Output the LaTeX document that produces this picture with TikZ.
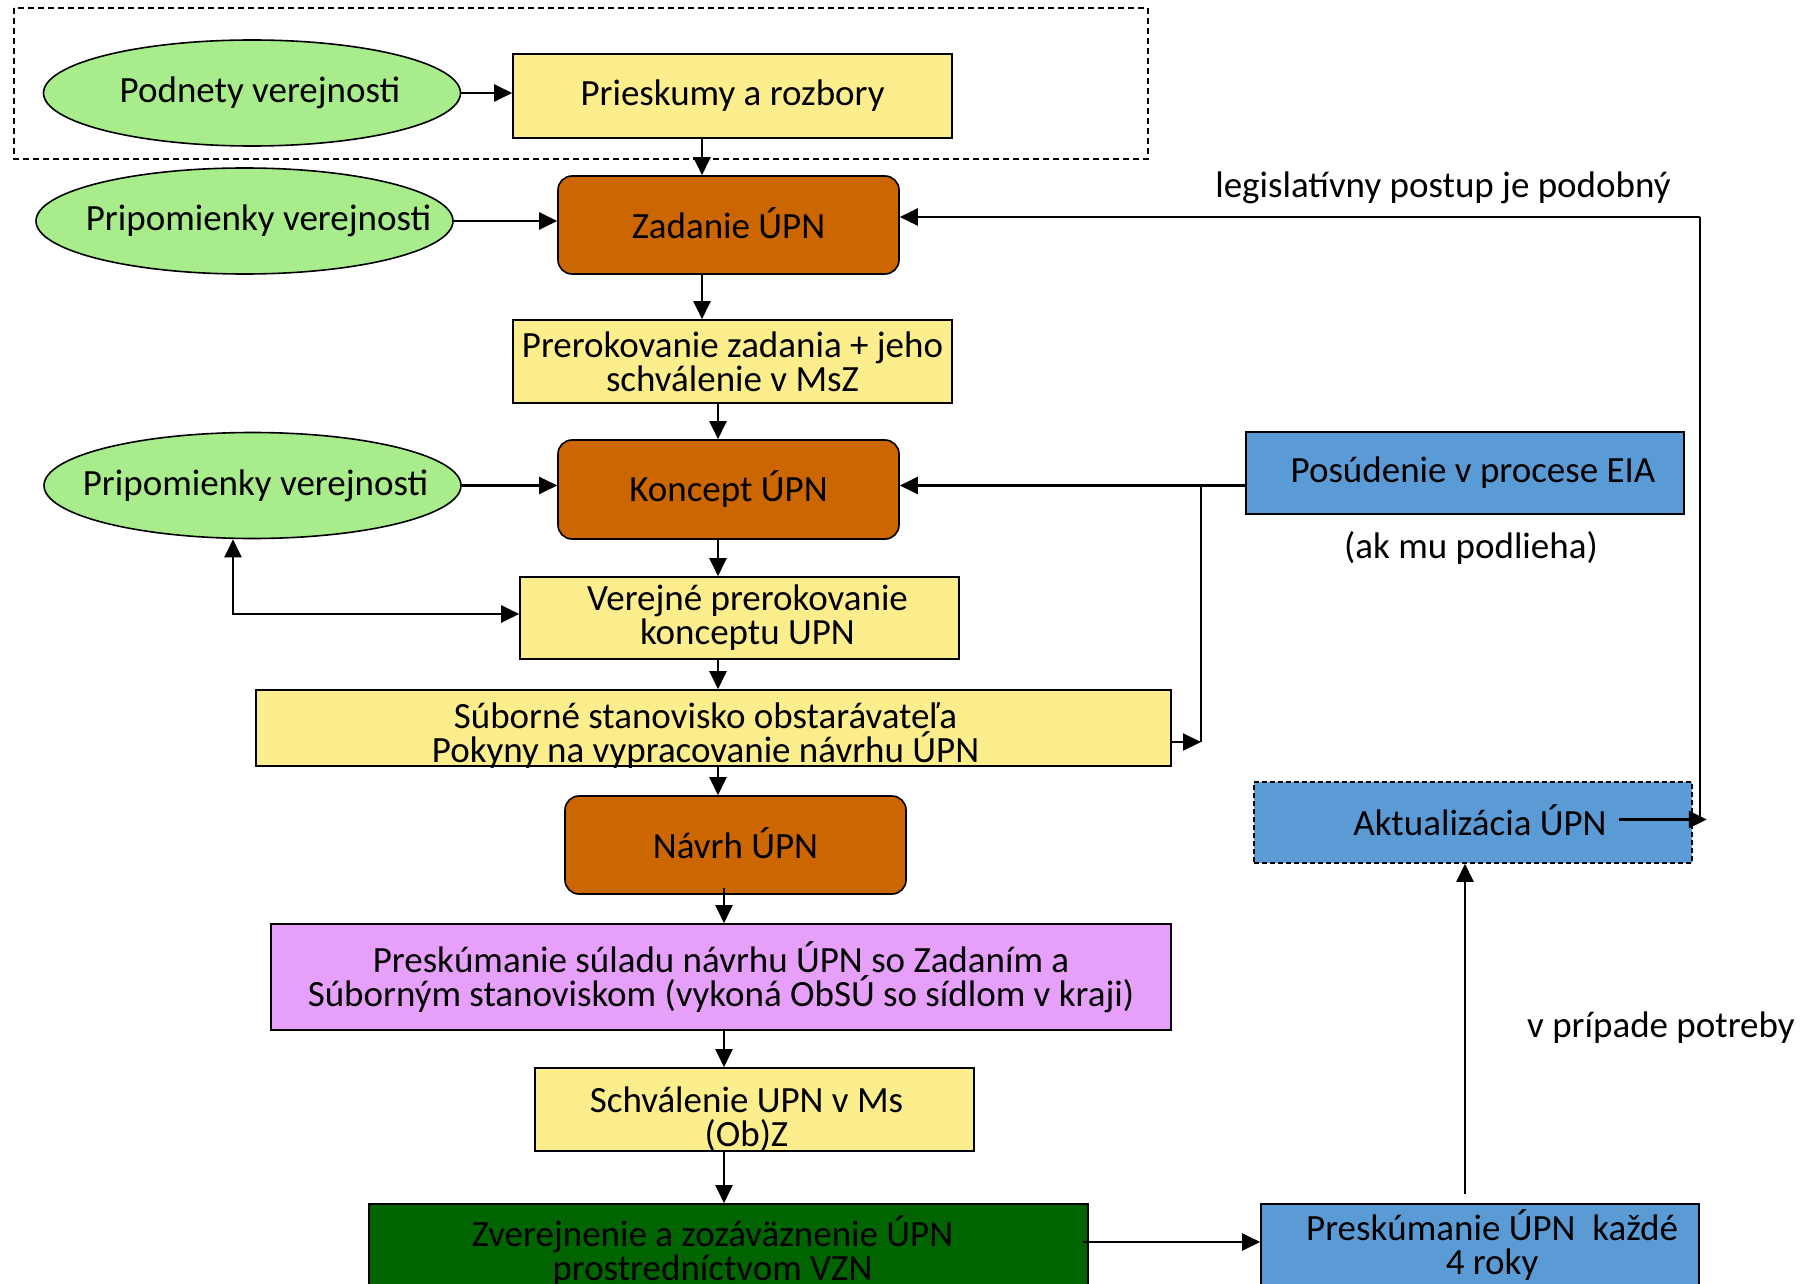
\documentclass[tikz,border=0pt]{standalone}
\usepackage{fontspec}
\setmainfont{Carlito}
\usetikzlibrary{shapes.geometric,arrows.meta}
\definecolor{elgreen}{RGB}{168,236,140}
\definecolor{ybg}{RGB}{252,238,140}
\definecolor{obg}{RGB}{204,102,0}
\definecolor{bbg}{RGB}{91,155,213}
\definecolor{pbg}{RGB}{230,160,250}
\definecolor{gbg}{RGB}{0,100,0}
\begin{document}
\begin{tikzpicture}[x=1pt,y=-1pt,
  txt/.style={font=\fontsize{37}{34}\selectfont, inner sep=0pt, align=center},
  base/.style={txt, draw=black, line width=1.6pt},
  ybox/.style={base, rectangle, fill=ybg},
  obox/.style={base, rectangle, rounded corners=14pt, fill=obg},
  bbox/.style={base, rectangle, fill=bbg},
  pbox/.style={base, rectangle, fill=pbg},
  gbox/.style={base, rectangle, fill=gbg},
  oval/.style={draw=black, line width=1.6pt, ellipse, fill=elgreen, inner sep=0pt,
     minimum width=417pt, minimum height=106pt},
  arr/.style={line width=2.2pt, -{Triangle[length=18pt,width=17pt]}},
  arrboth/.style={line width=2.2pt, {Triangle[length=18pt,width=17pt]}-{Triangle[length=18pt,width=17pt]}}
]
\useasboundingbox (0,0) rectangle (1816,1284);

% dashed group
\draw[line width=1.5pt, dash pattern=on 6pt off 4pt] (14,8) rectangle (1148,159);

% nodes
\node[oval, label={[txt, xshift=8pt]center:Podnety verejnosti}] (podnety) at (252,93) {};
\node[ybox, minimum width=439pt, minimum height=84pt] (prieskumy) at (732.5,96) {Prieskumy a rozbory};
\node[oval, label={[txt, xshift=14pt]center:Pripomienky verejnosti}] (prip1) at (244.5,221) {};
\node[obox, minimum width=341pt, minimum height=98pt] (zadanie) at (728.5,225) {\raisebox{3pt}{Zadanie ÚPN}};
\node[ybox, minimum width=439pt, minimum height=83pt] (prerok) at (732.5,361.5) {Prerokovanie zadania + jeho\\schválenie v MsZ};
\node[oval, label={[txt, xshift=3pt]center:Pripomienky verejnosti}] (prip2) at (252.5,485.5) {};
\node[obox, minimum width=341pt, minimum height=99pt] (koncept) at (728.5,489.5) {\raisebox{3pt}{Koncept ÚPN}};
\node[bbox, minimum width=438pt, minimum height=82pt] (eia) at (1465,473) {\hspace*{16pt}\raisebox{2pt}{Posúdenie v procese EIA}};
\node[txt] (akmu) at (1471,548) {(ak mu podlieha)};
\node[ybox, minimum width=439pt, minimum height=82pt] (verejne) at (739.5,618) {\hspace*{16pt}Verejné prerokovanie\\\hspace*{16pt}konceptu UPN};
\node[ybox, minimum width=915pt, minimum height=76pt,
  label={[txt, yshift=-8pt, xshift=-8pt]center:{Súborné stanovisko obstarávateľa\\Pokyny na vypracovanie návrhu ÚPN}}] (suborne) at (713.5,728) {};
\node[obox, minimum width=341pt, minimum height=98pt] (navrh) at (735.5,845) {\raisebox{3pt}{Návrh ÚPN}};
\node[bbox, minimum width=438pt, minimum height=81pt, dash pattern=on 5pt off 3pt] (aktual) at (1473,822.5) {\hspace*{14pt}\raisebox{4pt}{Aktualizácia ÚPN}};
\node[pbox, minimum width=900pt, minimum height=106pt] (pink) at (721,977) {Preskúmanie súladu návrhu ÚPN so Zadaním a\\Súborným stanoviskom (vykoná ObSÚ so sídlom v kraji)};
\node[ybox, minimum width=439pt, minimum height=83pt,
  label={[txt, yshift=-10pt, xshift=-8pt]center:{Schválenie UPN v Ms\\(Ob)Z}}] (schval) at (754.5,1109.5) {};
\node[gbox, minimum width=719pt, minimum height=100pt,
  label={[txt, yshift=3pt, xshift=-16pt]center:{Zverejnenie a zozáväznenie ÚPN\\prostredníctvom VZN}}] (zverej) at (728.5,1254) {};
\node[bbox, minimum width=438pt, minimum height=100pt,
  label={[txt, yshift=9pt, xshift=12pt]center:{Preskúmanie ÚPN\ \ každé\\4 roky}}] (presk4) at (1480,1254) {};
\node[txt] (legis) at (1443,188) {legislatívny postup je podobný};
\node[txt, anchor=west] (potreby) at (1527,1028) {v prípade potreby};

% helper coordinates
\coordinate (x702) at (702,0);
\coordinate (x718) at (718,0);
\coordinate (x724) at (724,0);
\coordinate (x1201) at (1201,0);
\coordinate (x1465) at (1465,0);
\coordinate (rc) at (1700,217);
\coordinate (y742) at (0,742);
\coordinate (y1242) at (0,1242);

% connectors
\draw[arr] (podnety.east) -- (prieskumy.west |- podnety.east);
\draw[arr] (prieskumy.south -| x702) -- (zadanie.north -| x702);
\draw[arr] (prip1.east) -- (zadanie.west |- prip1.east);
\draw[arr] (rc) -- (zadanie.east |- rc);
\draw[line width=1.5pt] (rc) -- ([yshift=3pt]rc |- aktual.east);
\draw[arr] ([xshift=-74pt,yshift=3pt]aktual.east) -- ([xshift=14pt,yshift=3pt]aktual.east);
\draw[arr] (zadanie.south -| x702) -- (prerok.north -| x702);
\draw[arr] (prerok.south -| x718) -- (koncept.north -| x718);
\draw[arr] (prip2.east) -- (koncept.west |- prip2.east);
\draw[arr] (eia.west |- prip2.east) -- (koncept.east |- prip2.east);
\draw[line width=1.6pt] (x1201 |- prip2.east) -- (x1201 |- y742);
\draw[arr] (suborne.east |- y742) -- (x1201 |- y742);
\draw[arr] (koncept.south -| x718) -- (verejne.north -| x718);
\draw[arrboth] ([xshift=-19.5pt]prip2.south) |- ([yshift=4pt]verejne.west);
\draw[arr] (verejne.south -| x718) -- (suborne.north -| x718);
\draw[arr] (suborne.south -| x718) -- (navrh.north -| x718);
\draw[arr] ([yshift=7pt]navrh.south -| x724) -- (pink.north -| x724);
\draw[arr] (pink.south -| x724) -- (schval.north -| x724);
\draw[arr] (schval.south -| x724) -- (zverej.north -| x724);
\draw[arr] ([xshift=-6pt]zverej.east |- y1242) -- (presk4.west |- y1242);
\draw[arr] ([yshift=9pt]presk4.north -| x1465) -- (aktual.south -| x1465);
\end{tikzpicture}
\end{document}
